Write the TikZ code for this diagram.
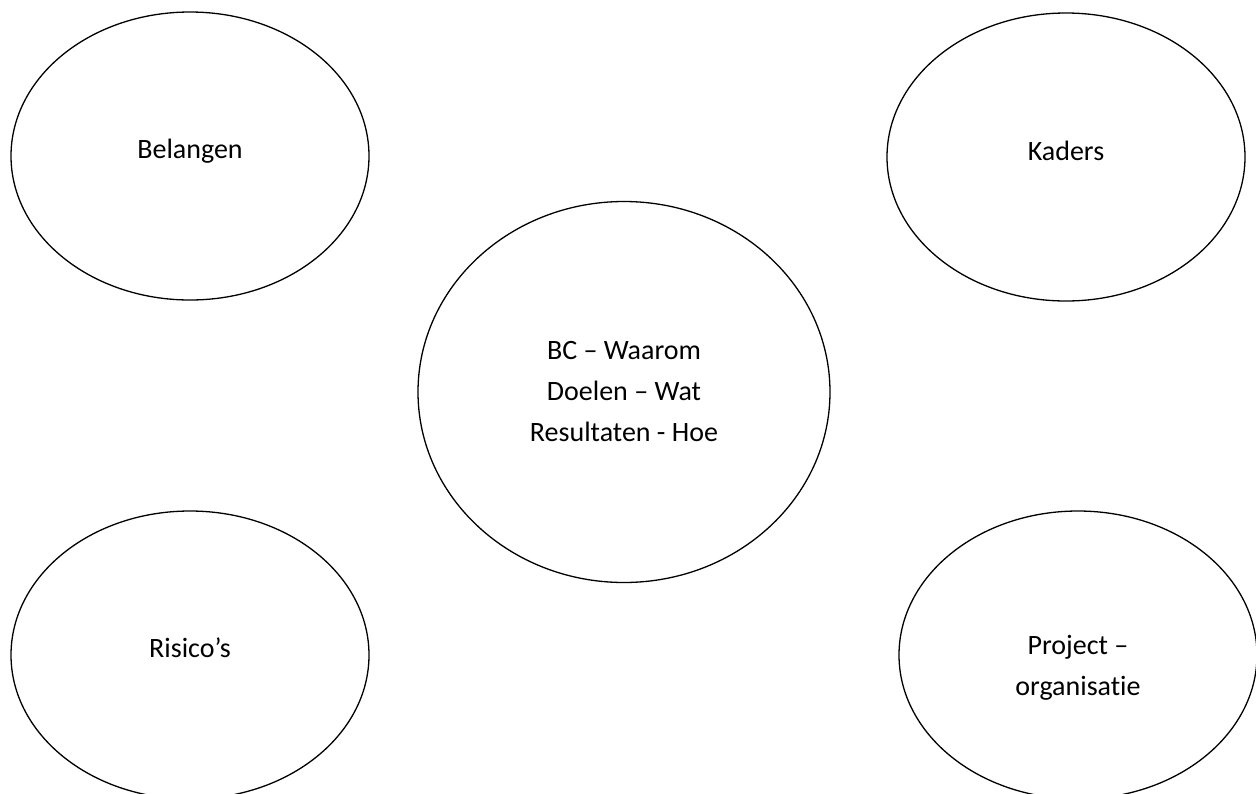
\documentclass[tikz,border=0pt]{standalone}
\usepackage{fontspec}
\setmainfont{Carlito}[Ligatures={NoCommon}]
\usetikzlibrary{shapes.geometric}
\begin{document}
\begin{tikzpicture}[x=1pt,y=-1pt,
	bol/.style={draw,ellipse,line width=1.3pt,inner sep=0pt,minimum width=358pt,minimum height=288pt},
	tekst/.style={align=center,font=\fontsize{28}{41}\selectfont}]
	\useasboundingbox (0,0) rectangle (1256,793);
	% de ellipsen
	\node[bol] (belangen) at (190,156) {};
	\node[bol] (kaders) at (1066,157) {};
	\node[bol,minimum width=412pt,minimum height=381pt] (bc) at (624,392) {};
	\node[bol] (risicos) at (190,655) {};
	\node[bol] (project) at (1078,655) {};
	% teksten
	\node[tekst] (belangen-t) at (190,151) {Belangen};
	\node[tekst] (kaders-t) at (1066,151) {Kaders};
	\node[tekst] (bc-t) at (624,392) {BC – Waarom\\Doelen – Wat\\Resultaten - Hoe};
	\node[tekst] (risicos-t) at (190,648) {Risico’s};
	\node[tekst] (project-t) at (1078,668) {Project –\\organisatie};
\end{tikzpicture}
\end{document}
